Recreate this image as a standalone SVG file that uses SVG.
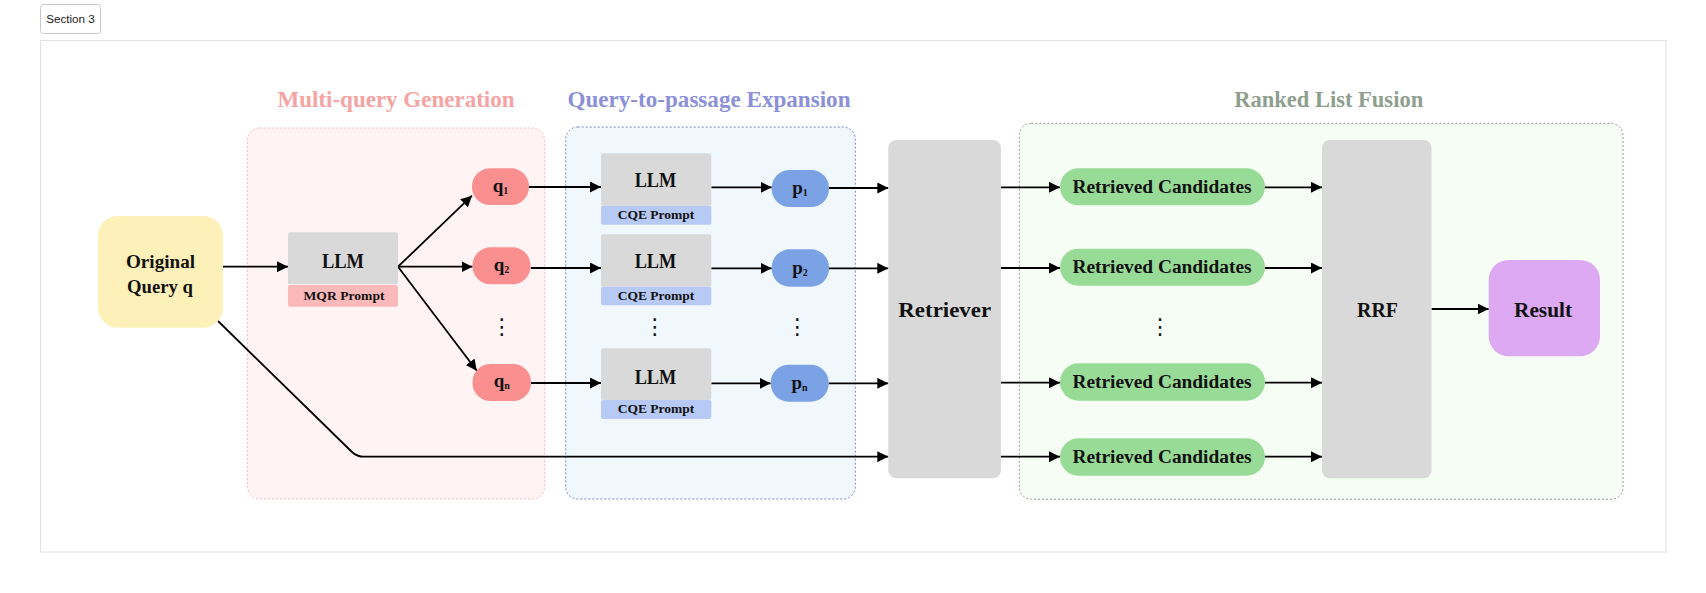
<svg xmlns="http://www.w3.org/2000/svg" width="1706" height="593" viewBox="0 0 1706 593">
<style>
.t{font-family:"Liberation Serif","Times New Roman",serif;font-weight:bold;fill:#111;text-anchor:middle}
.ttl{font-family:"Liberation Serif","Times New Roman",serif;font-weight:bold;text-anchor:middle;font-size:23px}
.dots{font-family:"DejaVu Sans",sans-serif;font-size:22px;fill:#111;text-anchor:middle}
.grp{stroke-width:1;stroke-dasharray:2 2}
.llm{fill:#d9d9d9}
.c{fill:none;stroke:#000;stroke-width:1.8;marker-end:url(#ah)}
</style>
<defs>
<marker id="ah" markerUnits="userSpaceOnUse" markerWidth="11" markerHeight="11" refX="10" refY="5" orient="auto" viewBox="0 0 10 10">
<path d="M0,0 L10,5 L0,10 z" fill="#000"/>
</marker>
</defs>
<rect x="0" y="0" width="1706" height="593" fill="#fff"/>
<g id="section-tab">
<rect x="40.5" y="4.5" width="60" height="29" rx="3" fill="#fff" stroke="#c8c8c8"/>
<text x="70.5" y="22.5" font-family="Liberation Sans, Arial, sans-serif" font-size="11.7" fill="#222" text-anchor="middle">Section 3</text>
</g>
<rect id="frame" x="40.5" y="40.5" width="1625.5" height="511.5" fill="#fff" stroke="#e2e2e2"/>

<g id="group-mqg">
<rect class="grp" x="247.5" y="128" width="297" height="371" rx="12" fill="#fff3f4" stroke="#f7b9bd"/>
<text class="ttl" x="396" y="107" fill="#f5a3a3" textLength="237" lengthAdjust="spacingAndGlyphs">Multi-query Generation</text>
</g>
<g id="group-q2p">
<rect class="grp" x="565.7" y="127" width="289.6" height="372" rx="12" fill="#f0f8fe" stroke="#7b84c6"/>
<text class="ttl" x="709" y="106.7" fill="#8b90d8" textLength="283" lengthAdjust="spacingAndGlyphs">Query-to-passage Expansion</text>
</g>
<g id="group-rlf">
<rect class="grp" x="1019.4" y="123.3" width="603.6" height="376" rx="12" fill="#f6fdf4" stroke="#9a9a9a"/>
<text class="ttl" x="1328.7" y="106.7" fill="#8e9f8e" textLength="189" lengthAdjust="spacingAndGlyphs">Ranked List Fusion</text>
</g>

<g id="connectors">
<path class="c" d="M223,266.7 L288,266.7"/>
<path class="c" d="M398,266.7 L472,195.7"/>
<path class="c" d="M398,266.7 L472.5,266.7"/>
<path class="c" d="M398,266.7 L476.8,370.7"/>
<path class="c" d="M529,187 L601,187"/>
<path class="c" d="M530.7,268 L601,268"/>
<path class="c" d="M531,383 L601,383"/>
<path class="c" d="M711.3,187.3 L771.7,187.3"/>
<path class="c" d="M711.3,268.3 L771.7,268.3"/>
<path class="c" d="M711.3,383.3 L770.7,383.3"/>
<path class="c" d="M829,188 L888.3,188"/>
<path class="c" d="M829,268.3 L888.3,268.3"/>
<path class="c" d="M828.7,383.3 L888.3,383.3"/>
<path class="c" d="M218,321 L352,452 Q357,456.7 364,456.7 L888.3,456.7"/>
<path class="c" d="M1001,187.3 L1060,187.3"/>
<path class="c" d="M1001,268 L1060,268"/>
<path class="c" d="M1001,382.7 L1060,382.7"/>
<path class="c" d="M1001,456.7 L1060,456.7"/>
<path class="c" d="M1265,187.3 L1322,187.3"/>
<path class="c" d="M1265,268 L1322,268"/>
<path class="c" d="M1265,382.7 L1322,382.7"/>
<path class="c" d="M1265,456.7 L1322,456.7"/>
<path class="c" d="M1431.5,309 L1488.7,309"/>
</g>

<g id="original-query">
<rect x="98" y="216" width="125" height="111.7" rx="20" fill="#fdf0b8"/>
<text class="t" x="160.5" y="267.7" font-size="19" textLength="69" lengthAdjust="spacingAndGlyphs">Original</text>
<text class="t" x="160" y="292.7" font-size="19" textLength="66" lengthAdjust="spacingAndGlyphs">Query q</text>
</g>

<g id="llm-mqr">
<rect class="llm" x="288" y="232.3" width="110" height="52" rx="2"/>
<rect x="288" y="285" width="110" height="21.7" rx="2" fill="#fbb9ba"/>
<text class="t" x="343" y="268.3" font-size="20" textLength="42" lengthAdjust="spacingAndGlyphs">LLM</text>
<text class="t" x="344" y="300" font-size="13.5" textLength="81" lengthAdjust="spacingAndGlyphs">MQR Prompt</text>
</g>

<g id="q1">
<rect x="472" y="168.3" width="57" height="36.7" rx="18" fill="#f98f8f"/>
<text class="t" x="500.5" y="191.7" font-size="19">q<tspan font-size="10" dy="2">1</tspan></text>
</g>
<g id="q2">
<rect x="472.5" y="247.3" width="58" height="37" rx="18" fill="#f98f8f"/>
<text class="t" x="501.5" y="270.7" font-size="19">q<tspan font-size="10" dy="2">2</tspan></text>
</g>
<text id="q-dots" class="dots" x="501.8" y="334">⋮</text>
<g id="qn">
<rect x="472.5" y="364" width="58.5" height="37" rx="18" fill="#f98f8f"/>
<text class="t" x="501.8" y="387" font-size="19">q<tspan font-size="10" dy="2">n</tspan></text>
</g>

<g id="llm-cqe-1">
<rect class="llm" x="601" y="153.3" width="110.3" height="52.4" rx="2"/>
<rect x="601" y="205.7" width="110.3" height="19" rx="2" fill="#b6caf5"/>
<text class="t" x="655.5" y="187.3" font-size="20" textLength="41.7" lengthAdjust="spacingAndGlyphs">LLM</text>
<text class="t" x="656" y="219" font-size="13" textLength="76.7" lengthAdjust="spacingAndGlyphs">CQE Prompt</text>
</g>
<g id="llm-cqe-2">
<rect class="llm" x="601" y="234.3" width="110.3" height="52.4" rx="2"/>
<rect x="601" y="286.7" width="110.3" height="18.6" rx="2" fill="#b6caf5"/>
<text class="t" x="655.5" y="268.3" font-size="20" textLength="41.7" lengthAdjust="spacingAndGlyphs">LLM</text>
<text class="t" x="656" y="300" font-size="13" textLength="76.7" lengthAdjust="spacingAndGlyphs">CQE Prompt</text>
</g>
<text id="llm-dots" class="dots" x="654.7" y="334">⋮</text>
<g id="llm-cqe-n">
<rect class="llm" x="601" y="348.3" width="110.3" height="51.7" rx="2"/>
<rect x="601" y="400" width="110.3" height="19" rx="2" fill="#b6caf5"/>
<text class="t" x="655.5" y="384.3" font-size="20" textLength="41.7" lengthAdjust="spacingAndGlyphs">LLM</text>
<text class="t" x="656" y="413.3" font-size="13" textLength="76.7" lengthAdjust="spacingAndGlyphs">CQE Prompt</text>
</g>

<g id="p1">
<rect x="771.7" y="170" width="57.3" height="37" rx="18" fill="#7ba2e4"/>
<text class="t" x="800" y="194" font-size="19">p<tspan font-size="10" dy="2">1</tspan></text>
</g>
<g id="p2">
<rect x="771.7" y="249.3" width="57.3" height="37.4" rx="18" fill="#7ba2e4"/>
<text class="t" x="800" y="274" font-size="19">p<tspan font-size="10" dy="2">2</tspan></text>
</g>
<text id="p-dots" class="dots" x="797.3" y="334">⋮</text>
<g id="pn">
<rect x="770.7" y="364.7" width="58" height="37" rx="18" fill="#7ba2e4"/>
<text class="t" x="799.5" y="389" font-size="19">p<tspan font-size="10" dy="2">n</tspan></text>
</g>

<g id="retriever">
<rect x="888.3" y="140" width="112.7" height="338.3" rx="8" fill="#d9d9d9"/>
<text class="t" x="944.7" y="317.3" font-size="22" textLength="92.7" lengthAdjust="spacingAndGlyphs">Retriever</text>
</g>

<g id="rc-1">
<rect x="1060" y="168.3" width="205" height="37" rx="18.5" fill="#97db97"/>
<text class="t" x="1162" y="192.7" font-size="18" textLength="179" lengthAdjust="spacingAndGlyphs">Retrieved Candidates</text>
</g>
<g id="rc-2">
<rect x="1060" y="248.7" width="205" height="37" rx="18.5" fill="#97db97"/>
<text class="t" x="1162" y="273.3" font-size="18" textLength="179" lengthAdjust="spacingAndGlyphs">Retrieved Candidates</text>
</g>
<text id="rc-dots" class="dots" x="1160" y="334">⋮</text>
<g id="rc-3">
<rect x="1060" y="363.3" width="205" height="37.4" rx="18.5" fill="#97db97"/>
<text class="t" x="1162" y="388.3" font-size="18" textLength="179" lengthAdjust="spacingAndGlyphs">Retrieved Candidates</text>
</g>
<g id="rc-4">
<rect x="1060" y="438.3" width="205" height="37.4" rx="18.5" fill="#97db97"/>
<text class="t" x="1162" y="462.7" font-size="18" textLength="179" lengthAdjust="spacingAndGlyphs">Retrieved Candidates</text>
</g>

<g id="rrf">
<rect x="1322" y="140" width="109.5" height="338.3" rx="8" fill="#d9d9d9"/>
<text class="t" x="1377.5" y="316.7" font-size="21" textLength="41" lengthAdjust="spacingAndGlyphs">RRF</text>
</g>

<g id="result">
<rect x="1488.7" y="260" width="111.3" height="96.3" rx="20" fill="#dca9f2"/>
<text class="t" x="1543" y="316.7" font-size="21" textLength="58" lengthAdjust="spacingAndGlyphs">Result</text>
</g>
</svg>
